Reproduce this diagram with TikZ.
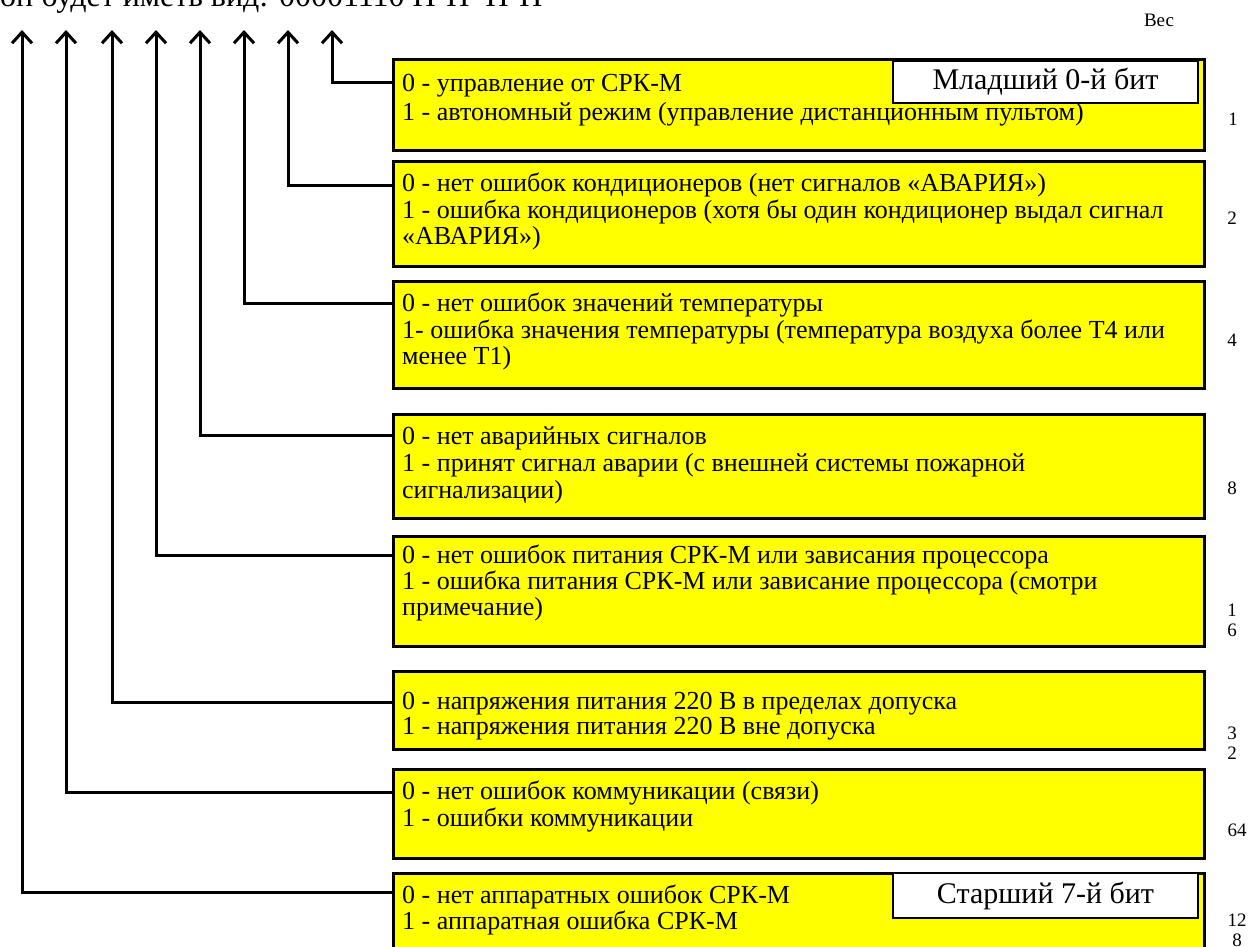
\documentclass[tikz,border=0pt]{standalone}
\usepackage{fontspec}
\setmainfont{Liberation Serif}
\usetikzlibrary{arrows.meta}
\definecolor{boxyellow}{RGB}{255,255,0}
\begin{document}
\begin{tikzpicture}[x=1pt,y=-1pt,
  ybox/.style={draw=black, line width=3pt, fill=boxyellow, rectangle, inner sep=0pt, anchor=north west, minimum width=811pt},
  lbox/.style={draw=black, line width=2pt, fill=white, rectangle, inner sep=0pt, anchor=north west, minimum width=305pt, font=\fontsize{30}{32}\selectfont},
  txt/.style={anchor=base west, inner sep=0pt, font=\fontsize{26}{28}\selectfont},
  wt/.style={anchor=base, inner sep=0pt, font=\fontsize{19}{20}\selectfont},
  conn/.style={line width=3pt, {Straight Barb[length=11pt,width=20pt,line width=3pt]}-},
]
\useasboundingbox (0,0) rectangle (1250,947);
\clip (0,0) rectangle (1250,947);

% top (cut) text
\node[anchor=base west, inner sep=0pt, font=\fontsize{32}{34}\selectfont] (top) at (0,7) {он будет иметь вид: 00001110 Н-Н~~Н-Н};
\node[wt] (ves) at (1159,27) {Вес};

% boxes
\node[ybox, minimum height=91pt]  (b1) at (392,58)  {};
\node[ybox, minimum height=105pt] (b2) at (392,160) {};
\node[ybox, minimum height=107pt] (b3) at (392,280) {};
\node[ybox, minimum height=104pt] (b4) at (392,413) {};
\node[ybox, minimum height=110pt] (b5) at (392,535) {};
\node[ybox, minimum height=78pt]  (b6) at (392,670) {};
\node[ybox, minimum height=89pt]  (b7) at (392,768) {};
\node[ybox, minimum height=110pt] (b8) at (392,872) {};

% labels
\node[lbox, minimum height=42pt] (lsb) at (892,60)  {Младший 0-й бит};
\node[lbox, minimum height=45pt] (msb) at (892,872) {Старший 7-й бит};

% texts
\node[txt] (t1a) at (402,92)  {0 - управление от СРК-М};
\node[txt] (t1b) at (402,121) {1 - автономный режим (управление дистанционным пультом)};
\node[txt] (t2a) at (402,191) {0 - нет ошибок кондиционеров (нет сигналов «АВАРИЯ»)};
\node[txt] (t2b) at (402,218) {1 - ошибка кондиционеров (хотя бы один кондиционер выдал сигнал};
\node[txt] (t2c) at (402,244) {«АВАРИЯ»)};
\node[txt] (t3a) at (402,311) {0 - нет ошибок значений температуры};
\node[txt] (t3b) at (402,338) {1- ошибка значения температуры (температура воздуха более Т4 или};
\node[txt] (t3c) at (402,364) {менее Т1)};
\node[txt] (t4a) at (402,444) {0 - нет аварийных сигналов};
\node[txt] (t4b) at (402,471) {1 - принят сигнал аварии (с внешней системы пожарной};
\node[txt] (t4c) at (402,498) {сигнализации)};
\node[txt] (t5a) at (402,563) {0 - нет ошибок питания СРК-М или зависания процессора};
\node[txt] (t5b) at (402,589) {1 - ошибка питания СРК-М или зависание процессора (смотри};
\node[txt] (t5c) at (402,615) {примечание)};
\node[txt] (t6a) at (402,709) {0 - напряжения питания 220 В в пределах допуска};
\node[txt] (t6b) at (402,734) {1 - напряжения питания 220 В вне допуска};
\node[txt] (t7a) at (402,799) {0 - нет ошибок коммуникации (связи)};
\node[txt] (t7b) at (402,826) {1 - ошибки коммуникации};
\node[txt] (t8a) at (402,903) {0 - нет аппаратных ошибок СРК-М};
\node[txt] (t8b) at (402,929) {1 - аппаратная ошибка СРК-М};

% weights
\node[wt] (w1)  at (1233,126) {1};
\node[wt] (w2)  at (1232,224) {2};
\node[wt] (w4)  at (1232,346) {4};
\node[wt] (w8)  at (1232,494) {8};
\node[wt] (w16a) at (1232,616) {1};
\node[wt] (w16b) at (1232,636) {6};
\node[wt] (w32a) at (1232,739) {3};
\node[wt] (w32b) at (1232,759) {2};
\node[wt] (w64) at (1237,836) {64};
\node[wt] (w128a) at (1237,926) {12};
\node[wt] (w128b) at (1237,946) {8};

% arrow tips
\coordinate (a1) at (332,30);
\coordinate (a2) at (288,30);
\coordinate (a3) at (244,30);
\coordinate (a4) at (200,30);
\coordinate (a5) at (156,30);
\coordinate (a6) at (112,30);
\coordinate (a7) at (66,30);
\coordinate (a8) at (22,30);

\draw[conn] (a1) |- ([yshift=-25pt]b1.north west);
\draw[conn] (a2) |- ([yshift=-25pt]b2.north west);
\draw[conn] (a3) |- ([yshift=-23pt]b3.north west);
\draw[conn] (a4) |- ([yshift=-22pt]b4.north west);
\draw[conn] (a5) |- ([yshift=-20pt]b5.north west);
\draw[conn] (a6) |- ([yshift=-32pt]b6.north west);
\draw[conn] (a7) |- ([yshift=-24pt]b7.north west);
\draw[conn] (a8) |- ([yshift=-20pt]b8.north west);
\end{tikzpicture}
\end{document}
